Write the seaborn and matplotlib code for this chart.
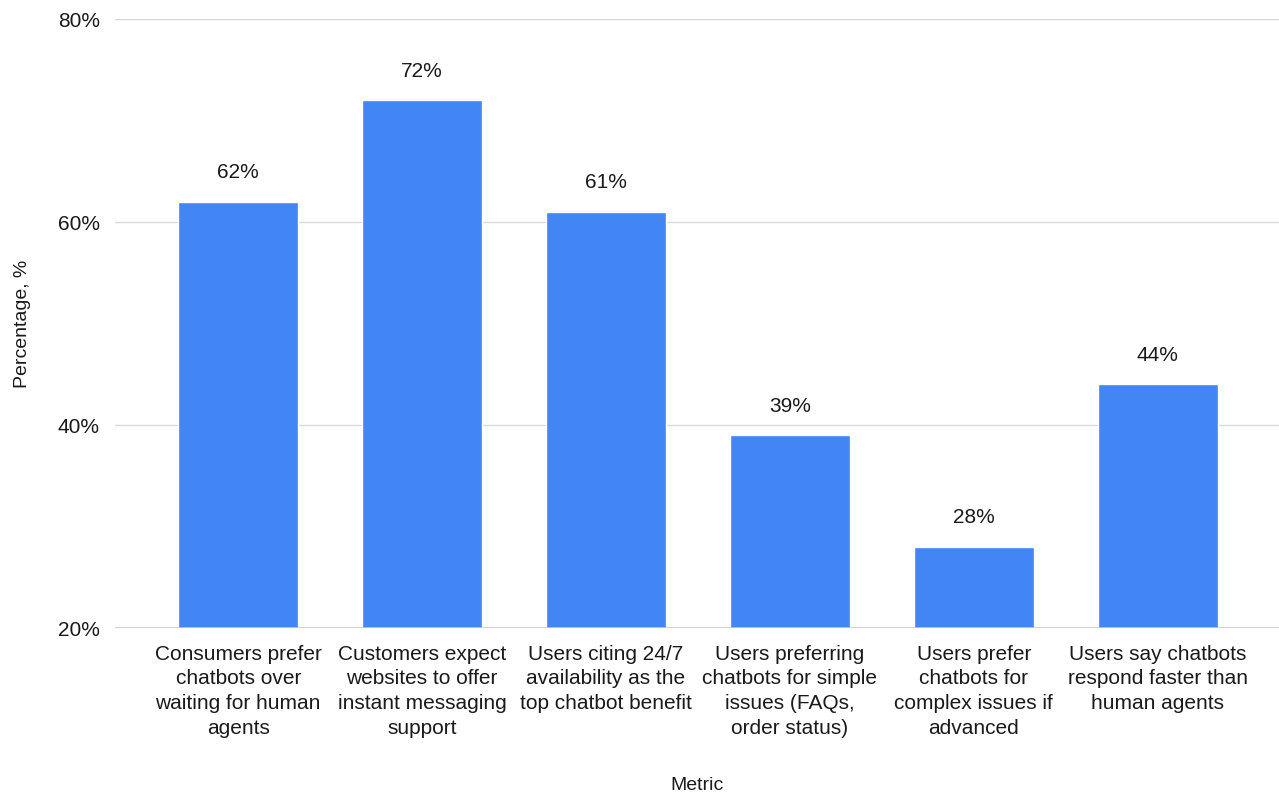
import matplotlib
matplotlib.use("Agg")
import matplotlib.pyplot as plt
import seaborn as sns
import pandas as pd

metrics = [
    "Consumers prefer\nchatbots over\nwaiting for human\nagents",
    "Customers expect\nwebsites to offer\ninstant messaging\nsupport",
    "Users citing 24/7\navailability as the\ntop chatbot benefit",
    "Users preferring\nchatbots for simple\nissues (FAQs,\norder status)",
    "Users prefer\nchatbots for\ncomplex issues if\nadvanced",
    "Users say chatbots\nrespond faster than\nhuman agents",
]
percentages = [62, 72, 61, 39, 28, 44]
y_ticks = [20, 40, 60, 80]

df = pd.DataFrame({"Metric": metrics, "Percentage": percentages})

sns.set_theme(style="white")
plt.rcParams["font.family"] = ["Liberation Sans", "DejaVu Sans"]

fig = plt.figure(figsize=(12.79, 7.94), dpi=100)
ax = fig.add_axes([0.0899, 0.209, 0.9101, 0.767])

sns.barplot(data=df, x="Metric", y="Percentage", color="#4285F4",
            width=0.652, saturation=1, ax=ax, zorder=3)

text_color = "#1a1a1a"
ax.set_ylim(20, 80)
ax.set_xlim(-0.67, 5.66)
ax.set_yticks(y_ticks)
ax.set_yticklabels([f"{v}%" for v in y_ticks])
ax.yaxis.grid(True, color="#d9d9d9", linewidth=1, zorder=0)
ax.set_axisbelow(True)
for s in ax.spines.values():
    s.set_visible(False)
# baseline along the 20% line
ax.axhline(20, color="#cccccc", linewidth=1.2, zorder=4)
ax.tick_params(axis="both", length=0, labelsize=15, colors=text_color)
ax.tick_params(axis="y", pad=11)
ax.tick_params(axis="x", pad=12)
for lbl in ax.get_xticklabels():
    lbl.set_linespacing(1.38)

for c in ax.containers:
    ax.bar_label(c, labels=[f"{v}%" for v in percentages], padding=14,
                 fontsize=15, color=text_color)

ax.set_xlabel("Metric", fontsize=14, color=text_color, labelpad=28)
ax.set_ylabel("Percentage, %", fontsize=14, color=text_color, labelpad=19)

fig.savefig("out.png", dpi=100)
